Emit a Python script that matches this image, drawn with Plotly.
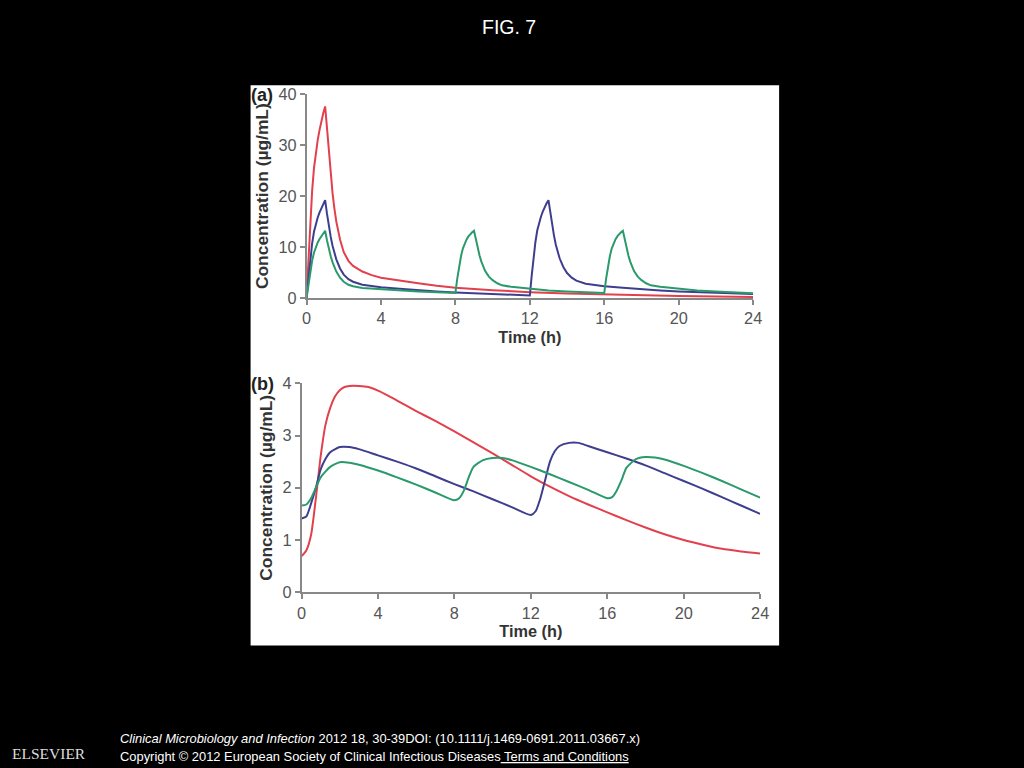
import plotly.graph_objects as go

# panel (a) - concentration (ug/mL) vs time (h)
t_red_a = [0, 0.1, 0.2, 0.3, 0.4, 0.5, 0.6, 0.7, 0.8, 0.9, 1.0, 1.1, 1.2, 1.3, 1.4, 1.5, 1.6, 1.8, 2.0,
           2.25, 2.5, 3, 3.5, 4, 5, 6, 7, 8, 10, 12, 14, 16, 18, 20, 22, 24]
c_red_a = [0, 8, 15, 21, 25.5, 28.5, 31, 33, 34.8, 36.3, 37.6, 33, 28, 24, 20.5, 17.5, 15, 11.5, 9,
           7.3, 6.3, 5.2, 4.5, 4.0, 3.4, 2.9, 2.4, 2.0, 1.55, 1.15, 0.9, 0.7, 0.55, 0.4, 0.3, 0.22]

t_blue_a = [0, 0.1, 0.2, 0.3, 0.4, 0.5, 0.6, 0.7, 0.8, 0.9, 1.0, 1.1, 1.2, 1.3, 1.4, 1.5, 1.6, 1.8, 2.0,
            2.25, 2.5, 3, 3.5, 4, 5, 6, 7, 8, 9, 10, 11, 12,
            12.1, 12.2, 12.3, 12.4, 12.5, 12.6, 12.7, 12.8, 12.9, 13.0, 13.1, 13.2, 13.3, 13.4, 13.5,
            13.6, 13.8, 14, 14.25, 14.5, 15, 15.5, 16, 17, 18, 19, 20, 21, 22, 23, 24]
c_blue_a = [0, 4, 7.6, 10.7, 13, 14.5, 15.8, 16.8, 17.7, 18.5, 19.2, 16.5, 14, 12, 10.2, 8.8, 7.6, 5.8, 4.6,
            3.7, 3.2, 2.6, 2.3, 2.1, 1.8, 1.5, 1.3, 1.1, 0.95, 0.8, 0.65, 0.5,
            4.4, 8, 11, 13.3, 14.8, 16, 17, 17.9, 18.6, 19.2, 16.6, 14.1, 12.2, 10.4, 9,
            7.8, 6.1, 4.9, 4.0, 3.4, 2.8, 2.5, 2.3, 2.0, 1.7, 1.5, 1.3, 1.15, 1.0, 0.9, 0.8]

t_green_a = [0, 0.1, 0.2, 0.3, 0.4, 0.5, 0.6, 0.7, 0.8, 0.9, 1.0, 1.1, 1.2, 1.3, 1.4, 1.5, 1.6, 1.8, 2.0,
             2.25, 2.5, 3, 4, 5, 6, 7, 8,
             8.1, 8.2, 8.3, 8.4, 8.5, 8.6, 8.7, 8.8, 8.9, 9.0, 9.1, 9.2, 9.3, 9.4, 9.5, 9.6, 9.8, 10,
             10.25, 10.5, 11, 12, 13, 14, 15, 16,
             16.1, 16.2, 16.3, 16.4, 16.5, 16.6, 16.7, 16.8, 16.9, 17.0, 17.1, 17.2, 17.3, 17.4, 17.5,
             17.6, 17.8, 18, 18.25, 18.5, 19, 20, 21, 22, 23, 24]
c_green_a = [0, 2.8, 5.2, 7.3, 8.9, 10, 10.9, 11.6, 12.2, 12.7, 13.2, 11.3, 9.6, 8.2, 7, 6, 5.2, 4.0, 3.2,
             2.6, 2.3, 1.95, 1.7, 1.5, 1.3, 1.15, 1.0,
             3.8, 6.2, 8.2, 9.7, 10.7, 11.5, 12.1, 12.6, 12.9, 13.2, 11.4, 9.7, 8.3, 7.1, 6.1, 5.3, 4.2, 3.5,
             2.9, 2.5, 2.2, 1.8, 1.5, 1.3, 1.15, 1.0,
             3.8, 6.2, 8.2, 9.7, 10.7, 11.5, 12.1, 12.6, 12.9, 13.2, 11.4, 9.7, 8.3, 7.1, 6.1,
             5.3, 4.2, 3.5, 2.9, 2.5, 2.2, 1.8, 1.5, 1.3, 1.1, 0.95]

# panel (b)
t_red_b = [0, 0.25, 0.5, 0.75, 1.0, 1.25, 1.5, 1.75, 2.0, 2.25, 2.5, 3, 3.5, 4, 4.5, 5, 6, 7, 8, 9, 10,
           11, 12, 13, 14, 15, 16, 17, 18, 19, 20, 21, 22, 23, 24]
c_red_b = [0.69, 0.8, 1.1, 1.8, 2.6, 3.2, 3.53, 3.75, 3.87, 3.93, 3.95, 3.95, 3.93, 3.86, 3.77, 3.67, 3.47,
           3.28, 3.08, 2.87, 2.66, 2.44, 2.22, 2.02, 1.84, 1.68, 1.53, 1.38, 1.24, 1.11, 1.0, 0.91, 0.83, 0.78, 0.74]

t_blue_b = [0, 0.25, 0.5, 0.75, 1.0, 1.25, 1.5, 2.0, 2.5, 3, 4, 5, 6, 7, 8, 9, 10, 11, 12,
            12.25, 12.5, 12.75, 13, 13.25, 13.5, 14, 14.5, 15, 16, 17, 18, 19, 20, 21, 22, 23, 24]
c_blue_b = [1.41, 1.45, 1.7, 2.0, 2.35, 2.55, 2.68, 2.78, 2.78, 2.74, 2.62, 2.5, 2.37, 2.22, 2.07, 1.93,
            1.78, 1.63, 1.48, 1.55, 1.8, 2.15, 2.5, 2.7, 2.8, 2.86, 2.86, 2.8, 2.68, 2.56, 2.43, 2.28,
            2.13, 1.98, 1.82, 1.66, 1.5]

t_green_b = [0, 0.25, 0.5, 0.75, 1.0, 1.5, 2.0, 2.5, 3, 4, 5, 6, 7, 8, 8.25, 8.5, 8.75, 9, 9.5, 10,
             10.5, 11, 12, 13, 14, 15, 16, 16.25, 16.5, 16.75, 17, 17.5, 18, 18.5, 19, 20, 21, 22, 23, 24]
c_green_b = [1.66, 1.68, 1.8, 2.0, 2.2, 2.4, 2.49, 2.48, 2.44, 2.33, 2.2, 2.06, 1.91, 1.76, 1.8, 1.95,
             2.2, 2.4, 2.53, 2.57, 2.57, 2.53, 2.4, 2.26, 2.11, 1.96, 1.8, 1.82, 1.95, 2.15, 2.38, 2.55,
             2.59, 2.58, 2.54, 2.42, 2.28, 2.13, 1.97, 1.81]

x_ticks = [0, 4, 8, 12, 16, 20, 24]

RED = '#e2404c'
BLUE = '#3d3f8e'
GREEN = '#2a9a6c'

# the page keeps its default 8px body margin; the figure is a bit taller than the
# window so the footer lines are not cut off
PAD = 8
W, H = 1024 - 2 * PAD, 768 - 2 * PAD + 26
# measured offset/scale between layout pixels and the captured picture
SX, OX = 0.987, 4.3
SY, OY = 0.973, 9.3


def px_x(p):
    q = (p - OX) / SX
    return (q - PAD) / W


def px_y(p):
    q = (p - OY) / SY
    return 1 - (q - PAD) / H


fig = go.Figure()

for t, c, col in [(t_red_a, c_red_a, RED), (t_blue_a, c_blue_a, BLUE), (t_green_a, c_green_a, GREEN)]:
    fig.add_trace(go.Scatter(x=t, y=c, mode='lines', line=dict(color=col, width=2),
                             xaxis='x', yaxis='y', showlegend=False))

for t, c, col in [(t_red_b, c_red_b, RED), (t_blue_b, c_blue_b, BLUE), (t_green_b, c_green_b, GREEN)]:
    fig.add_trace(go.Scatter(x=t, y=c, mode='lines', line=dict(color=col, width=2, shape='spline', smoothing=0.6),
                             xaxis='x2', yaxis='y2', showlegend=False))

tickfont = dict(family='Arial, Liberation Sans, sans-serif', size=16.3, color='#555')
ytitlefont = dict(family='Arial, Liberation Sans, sans-serif', size=17.4, color='#333')
xtitlefont = dict(family='Arial, Liberation Sans, sans-serif', size=16.3, color='#333')
ax_common = dict(showline=True, linecolor='#888', linewidth=1.5, ticks='outside', ticklen=5,
                 tickcolor='#888', tickwidth=1.5, showgrid=False, zeroline=False, tickfont=tickfont)

fig.update_layout(
    width=W, height=H,
    margin=dict(l=0, r=0, t=0, b=0),
    paper_bgcolor='black',
    plot_bgcolor='white',
    xaxis=dict(domain=[px_x(306), px_x(753)], anchor='y', range=[0, 24], tickvals=x_ticks,
               title=dict(text='<b>Time (h)</b>', font=xtitlefont, standoff=5), **ax_common),
    yaxis=dict(domain=[px_y(297), px_y(94)], anchor='x', range=[0, 40], tickvals=[0, 10, 20, 30, 40],
               title=dict(text='<b>Concentration (µg/mL)</b>', font=ytitlefont, standoff=5), **ax_common),
    xaxis2=dict(domain=[px_x(301), px_x(760)], anchor='y2', range=[0, 24], tickvals=x_ticks,
                title=dict(text='<b>Time (h)</b>', font=xtitlefont, standoff=5), **ax_common),
    yaxis2=dict(domain=[px_y(590), px_y(382)], anchor='x2', range=[0, 4], tickvals=[0, 1, 2, 3, 4],
                title=dict(text='<b>Concentration (µg/mL)</b>', font=ytitlefont, standoff=5), **ax_common),
)

# white figure panel behind both charts
fig.add_shape(type='rect', xref='paper', yref='paper', layer='below',
              x0=px_x(250), x1=px_x(779), y0=px_y(643), y1=px_y(85),
              fillcolor='white', line=dict(width=0))

label_font = dict(family='Arial, Liberation Sans, sans-serif', size=18, color='#222')
fig.add_annotation(text='<b>(a)</b>', xref='paper', yref='paper', x=px_x(248), y=px_y(95),
                   xanchor='left', yanchor='middle', showarrow=False, font=label_font)
fig.add_annotation(text='<b>(b)</b>', xref='paper', yref='paper', x=px_x(248), y=px_y(383),
                   xanchor='left', yanchor='middle', showarrow=False, font=label_font)

fig.add_annotation(text='FIG. 7', xref='paper', yref='paper', x=px_x(509), y=px_y(27),
                   xanchor='center', yanchor='middle', showarrow=False,
                   font=dict(family='Arial, Liberation Sans, sans-serif', size=19.5, color='white'))

foot = dict(family='Arial, Liberation Sans, sans-serif', size=12.9, color='white')
fig.add_annotation(text='<i>Clinical Microbiology and Infection</i> 2012 18, 30-39DOI: (10.1111/j.1469-0691.2011.03667.x)',
                   xref='paper', yref='paper', x=px_x(117), y=px_y(736), xanchor='left', yanchor='middle',
                   showarrow=False, font=foot)
fig.add_annotation(text='Copyright © 2012 European Society of Clinical Infectious Diseases<u> Terms and Conditions</u>',
                   xref='paper', yref='paper', x=px_x(117), y=px_y(754), xanchor='left', yanchor='middle',
                   showarrow=False, font=foot)
fig.add_annotation(text='ELSEVIER', xref='paper', yref='paper', x=px_x(48), y=px_y(751),
                   xanchor='center', yanchor='middle', showarrow=False,
                   font=dict(family='Liberation Serif, DejaVu Serif, serif', size=15.5, color='#ddd'))

# paint the page margin black and keep scrollbars away
fig.write_html('out.html', config={'displayModeBar': False},
               post_script="document.body.style.background='black';document.body.style.overflow='hidden';")
